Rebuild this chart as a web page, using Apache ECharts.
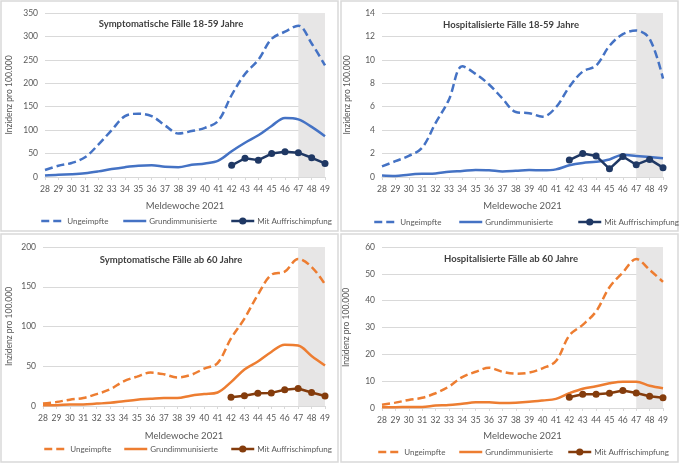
<!DOCTYPE html>
<html><head><meta charset="utf-8">
<script src="https://cdn.jsdelivr.net/npm/echarts@6/dist/echarts.min.js"></script>
<style>html,body{margin:0;padding:0;background:#fff}#c{width:680px;height:464px}</style>
</head><body><div id="c"></div>
<script>
const weeks = ['28','29','30','31','32','33','34','35','36','37','38','39','40','41','42','43','44','45','46','47','48','49'];
const titles = ['Symptomatische Fälle 18-59 Jahre','Hospitalisierte Fälle 18-59 Jahre','Symptomatische Fälle ab 60 Jahre','Hospitalisierte Fälle ab 60 Jahre'];
const seriesNames = ['Ungeimpfte','Grundimmunisierte','Mit Auffrischimpfung'];
const xName = 'Meldewoche 2021';
const yName = 'Inzidenz pro 100.000';
const yMax = [350, 14, 200, 60];
const yInterval = [50, 2, 50, 10];

// Symptomatische 18-59
const sym1859_ungeimpft = [15,24,30,42,69,100,130,135,130,110,93,98,105,120,175,220,250,295,310,323,285,238];
const sym1859_grund = [3,5,6,8,12,17,21,24,25,22,21,26,29,35,55,73,89,109,126,123,107,87];
const sym1859_booster = [null,null,null,null,null,null,null,null,null,null,null,null,null,null,25,40,36,50,54,52,41,29];
// Hospitalisierte 18-59
const hosp1859_ungeimpft = [0.9,1.35,1.8,2.5,4.6,6.6,9.45,8.8,7.9,6.7,5.55,5.45,5.15,5.95,7.7,9.0,9.5,11.2,12.2,12.5,11.8,8.4];
const hosp1859_grund = [0.12,0.08,0.2,0.27,0.3,0.45,0.52,0.6,0.58,0.48,0.53,0.6,0.57,0.65,1.0,1.2,1.3,1.5,1.9,1.8,1.7,1.6];
const hosp1859_booster = [null,null,null,null,null,null,null,null,null,null,null,null,null,null,1.45,2.0,1.8,0.7,1.75,1.05,1.5,0.8];
// Symptomatische ab 60
const sym60_ungeimpft = [3,5,8,10,15,21,31,37,42,40,36,39,47,54,85,110,140,165,169,185,175,153];
const sym60_grund = [1,1,2,2,3,4,6,8,9,10,10,13,15,17,30,46,56,68,77,76,63,51];
const sym60_booster = [null,null,null,null,null,null,null,null,null,null,null,null,null,null,11,13,16,16.5,20.5,22,17,12.5];
// Hospitalisierte ab 60
const hosp60_ungeimpft = [1.2,2,3,3.8,5.5,8,11.5,13.5,15,13.5,12.8,13.2,14.8,17.5,27,31,36,45,50.5,55.5,51.5,47];
const hosp60_grund = [0.3,0.3,0.4,0.4,0.9,1.1,1.6,2.1,2.1,1.9,2.0,2.3,2.8,3.4,5.5,7.2,8.1,9.2,9.8,9.8,8.3,7.4];
const hosp60_booster = [null,null,null,null,null,null,null,null,null,null,null,null,null,null,4,5.1,5.1,5.5,6.5,5.6,4.4,3.8];

const panelData = [
  [sym1859_ungeimpft, sym1859_grund, sym1859_booster],
  [hosp1859_ungeimpft, hosp1859_grund, hosp1859_booster],
  [sym60_ungeimpft, sym60_grund, sym60_booster],
  [hosp60_ungeimpft, hosp60_grund, hosp60_booster]
];

const FONT = 'Lato';
const TXT = '#595959';
const palettes = [
  ['#4472C4','#4472C4','#1F3864'],
  ['#4472C4','#4472C4','#1F3864'],
  ['#ED7D31','#ED7D31','#843C0C'],
  ['#ED7D31','#ED7D31','#843C0C']
];
const grids = [
  {left:45, right:355, top:13, bottom:287},
  {left:382, right:17, top:13, bottom:287},
  {left:43, right:355, top:247, bottom:58},
  {left:382, right:17, top:247, bottom:56}
];
const titlePos = [[171,19],[511,20],[171,255],[511,254]];
const xNameGap = [24,24,25,23];
const yNameGap = [31,30,29,31];
const legendY = [217,218,445,448];
const legendX = [[40,122,230],[373,458,577],[43,123,230],[377,458,567]];

const option = {
  animation:false,
  textStyle:{fontFamily:FONT},
  title: titles.map((t,i)=>({text:t, left:titlePos[i][0], top:titlePos[i][1], textAlign:'center', padding:0,
    textStyle:{fontFamily:FONT, fontSize:9.5, fontWeight:'bold', color:'#3f3f3f'}})),
  grid: grids.map(g=>Object.assign({containLabel:false}, g)),
  xAxis: grids.map((g,i)=>({type:'category', gridIndex:i, data:weeks, boundaryGap:false,
    name:xName, nameLocation:'middle', nameGap:xNameGap[i],
    nameTextStyle:{fontFamily:FONT, fontSize:9.5, color:TXT},
    axisLine:{lineStyle:{color:'#d9d9d9'}},
    axisTick:{show:true, length:3, lineStyle:{color:'#d9d9d9'}},
    axisLabel:{fontFamily:FONT, fontSize:8.5, color:TXT, margin:8, interval:0}
  })),
  yAxis: grids.map((g,i)=>({type:'value', gridIndex:i, min:0, max:yMax[i], interval:yInterval[i],
    name:yName, nameLocation:'middle', nameGap:yNameGap[i],
    nameTextStyle:{fontFamily:FONT, fontSize:8.5, color:TXT},
    axisLine:{show:false}, axisTick:{show:false},
    axisLabel:{fontFamily:FONT, fontSize:8.5, color:TXT, margin:7},
    splitLine:{lineStyle:{color:'#d9d9d9', width:1}}
  })),
  legend: [],
  series: [],
  graphic: [
    {type:'rect', shape:{x:1,y:1,width:337,height:230}, style:{fill:'none', stroke:'#d9d9d9', lineWidth:1.5}, silent:true},
    {type:'rect', shape:{x:341,y:1,width:337,height:230}, style:{fill:'none', stroke:'#d9d9d9', lineWidth:1.5}, silent:true},
    {type:'rect', shape:{x:1,y:234,width:337,height:228}, style:{fill:'none', stroke:'#d9d9d9', lineWidth:1.5}, silent:true},
    {type:'rect', shape:{x:341,y:234,width:337,height:228}, style:{fill:'none', stroke:'#d9d9d9', lineWidth:1.5}, silent:true}
  ]
};

panelData.forEach((arrs, p)=>{
  arrs.forEach((vals, s)=>{
    const name = seriesNames[s] + '_' + p;
    const ser = {
      name, type:'line', xAxisIndex:p, yAxisIndex:p, data:vals,
      smooth: s===2 ? false : 0.35,
      color: palettes[p][s],
      lineStyle:{color:palettes[p][s], width:2.5, type: s===0 ? [8,4] : 'solid'},
      symbol: s===2 ? 'circle' : 'none',
      symbolSize: 7,
      itemStyle:{color:palettes[p][s]},
      z: 3 + s
    };
    if (s===0) {
      ser.markArea = {silent:true, itemStyle:{color:'#e7e6e6'}, data:[[{xAxis:'47'},{xAxis:'49'}]]};
    }
    option.series.push(ser);
    const lg = {
      data:[name], left:legendX[p][s], top:legendY[p], padding:0,
      itemWidth:23, itemHeight:9, itemGap:5,
      formatter:(n)=>n.split('_')[0],
      textStyle:{fontFamily:FONT, fontSize:8, color:TXT, padding:[0,0,0,-2]},
      lineStyle:{width:2.5},
      selectedMode:false
    };
    if (s !== 2) lg.itemStyle = {opacity:0};
    option.legend.push(lg);
  });
});

const chart = echarts.init(document.getElementById('c'), null, {renderer:'canvas'});
chart.setOption(option);
</script>
</body></html>
